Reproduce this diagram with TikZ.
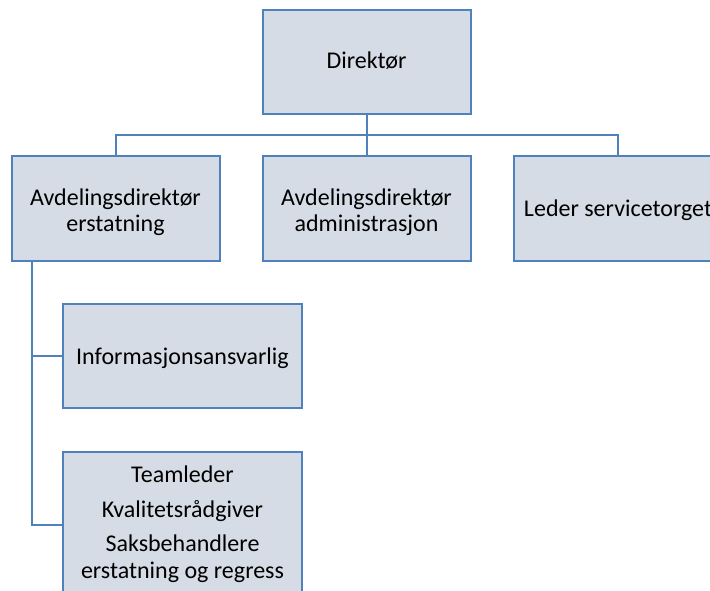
\documentclass[tikz,border=0pt]{standalone}
\usepackage{fontspec}
\setmainfont{Carlito}
\definecolor{boxblue}{RGB}{79,129,189}
\definecolor{boxfill}{RGB}{214,220,229}
% #1: distance of the last baseline below the box centre, #2: lines
\newcommand\boxtext[2]{\raisebox{-#1}[0pt][0pt]{\begin{tabular}[b]{@{}c@{}}#2\end{tabular}}}
\begin{document}
\begin{tikzpicture}[x=1pt,y=-1pt,
  box/.style={draw=boxblue, fill=boxfill, line width=2pt, inner sep=0pt,
    font=\fontsize{24}{26.5}\selectfont},
  toprow/.style={box, minimum width=208pt, minimum height=104pt},
  subbox/.style={box, minimum width=239pt},
  conn/.style={draw=boxblue, line width=2pt}]
\useasboundingbox (0,0) rectangle (710,591);
\clip (0,0) rectangle (710,591);
\node[toprow] (dir) at (366.5,62) {\boxtext{7pt}{Direktør}};
\node[toprow] (a1) at (115.5,208.5) {\boxtext{23.5pt}{Avdelingsdirektør\\erstatning}};
\node[toprow] (a2) at (366.5,208.5) {\boxtext{23.5pt}{Avdelingsdirektør\\administrasjon}};
\node[toprow] (a3) at (618,208.5) {\boxtext{7.5pt}{Leder servicetorget}};
\node[subbox, minimum height=104pt] (info) at (182.5,356) {\boxtext{8pt}{Informasjonsansvarlig}};
\node[subbox, minimum height=146pt] (team) at (182.5,525) {\boxtext{53pt}{Teamleder\\[8pt]Kvalitetsrådgiver\\[8pt]Saksbehandlere\\erstatning og regress}};
\coordinate (bus) at (0,135);
\coordinate (spine) at (32,0);
\draw[conn] (dir.south) -- (a2.north);
\draw[conn] (a1.north) -- (a1.north |- bus) -- (a3.north |- bus) -- (a3.north);
\draw[conn] (spine |- a1.south) -- (spine |- team.west) -- (team.west);
\draw[conn] (spine |- info.west) -- (info.west);
\end{tikzpicture}
\end{document}
